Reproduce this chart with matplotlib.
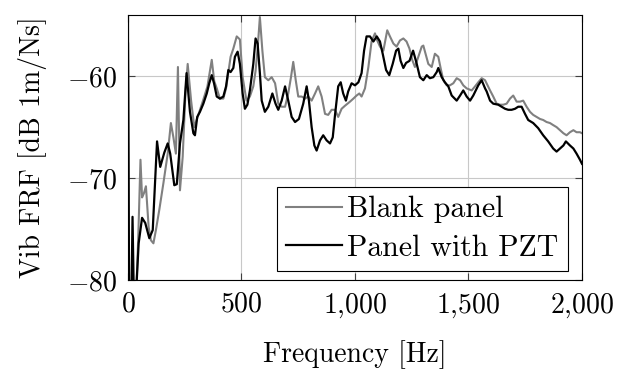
import matplotlib
matplotlib.use("Agg")
import matplotlib.pyplot as plt
import matplotlib.ticker as ticker

plt.rcParams.update({'font.size': 20})
plt.rcParams['font.family'] = 'cmr10'
plt.rcParams['mathtext.fontset'] = 'cm'
plt.rcParams['axes.formatter.use_mathtext'] = True

# Blank panel (grey)
freq_blank = [0, 4, 35, 45, 55, 62, 70, 79, 91, 101, 112, 123, 138, 156, 175, 189, 200, 211,
              220, 229, 241, 253, 263, 278, 292, 310, 332, 350, 369, 380, 391, 405, 420, 432,
              452, 464, 479, 493, 505, 522, 537, 552, 562, 572, 581, 592, 603, 618, 633, 648,
              662, 677, 692, 706, 718, 728, 739, 750, 765, 780, 794, 809, 824, 838, 853, 868,
              882, 897, 912, 926, 941, 956, 978, 993, 1007, 1019, 1029, 1044, 1059, 1073, 1088,
              1098, 1110, 1125, 1142, 1154, 1169, 1183, 1198, 1213, 1227, 1240, 1252, 1264,
              1279, 1294, 1301, 1311, 1323, 1338, 1352, 1367, 1379, 1389, 1404, 1418, 1433,
              1448, 1463, 1477, 1492, 1514, 1529, 1543, 1558, 1573, 1595, 1609, 1624, 1639,
              1653, 1668, 1683, 1697, 1712, 1727, 1741, 1756, 1771, 1785, 1800, 1815, 1829,
              1844, 1859, 1873, 1888, 1903, 1918, 1932, 1947, 1962, 1976, 1991, 2000]
vib_blank = [-52, -82, -82, -76, -68.2, -71.9, -71.5, -70.8, -74.8, -76.1, -76.4, -75.1, -73.1,
             -70.5, -67.6, -64.6, -66.0, -67.6, -59.1, -71.2, -67.9, -61.7, -58.8, -62.4, -65.0,
             -63.8, -62.3, -61.0, -58.4, -60.5, -61.2, -62.2, -62.2, -61.2, -58.1, -57.3, -56.1,
             -56.4, -60.1, -62.4, -62.0, -61.0, -59.5, -57.0, -54.2, -57.5, -60.1, -60.4, -60.1,
             -60.7, -62.7, -63.0, -63.0, -61.7, -60.1, -58.6, -60.4, -62.0, -62.0, -62.2, -62.0,
             -62.4, -61.7, -61.0, -62.0, -63.7, -63.8, -63.3, -63.3, -64.0, -63.2, -62.9, -62.5,
             -62.2, -61.9, -61.7, -62.0, -61.2, -59.1, -56.6, -55.8, -56.5, -57.1, -57.5, -55.5,
             -56.1, -56.8, -57.1, -56.5, -56.3, -56.6, -57.3, -58.4, -59.1, -58.1, -57.1, -57.0,
             -57.8, -58.8, -59.1, -57.8, -58.1, -59.4, -60.4, -60.9, -60.9, -60.7, -60.2, -60.4,
             -60.9, -61.2, -61.4, -61.0, -60.6, -60.2, -60.4, -61.4, -62.0, -62.7, -62.8, -62.8,
             -62.7, -62.2, -61.9, -62.5, -62.5, -62.4, -63.0, -63.5, -63.8, -64.0, -64.2, -64.3,
             -64.5, -64.6, -64.8, -65.0, -65.3, -65.6, -65.8, -65.5, -65.3, -65.5, -65.5, -65.6]

# Panel with PZT (black)
freq_pzt = [0, 5, 15, 20, 26, 34, 47, 62, 76, 94, 109, 128, 142, 160, 175, 186, 204, 215, 229,
            244, 258, 273, 288, 295, 305, 317, 332, 347, 358, 369, 379, 391, 405, 420, 432, 442,
            452, 464, 471, 483, 493, 505, 515, 526, 537, 552, 562, 571, 581, 589, 603, 618, 636,
            650, 662, 677, 692, 706, 721, 736, 753, 772, 787, 797, 809, 821, 831, 846, 860, 875,
            890, 902, 912, 926, 937, 948, 960, 970, 985, 1000, 1015, 1029, 1040, 1051, 1066,
            1081, 1096, 1110, 1122, 1137, 1151, 1166, 1181, 1191, 1201, 1213, 1225, 1240, 1256,
            1272, 1286, 1301, 1316, 1330, 1345, 1360, 1367, 1382, 1396, 1411, 1426, 1448, 1463,
            1477, 1492, 1507, 1521, 1543, 1558, 1573, 1580, 1595, 1609, 1631, 1646, 1661, 1675,
            1690, 1705, 1719, 1734, 1749, 1763, 1785, 1807, 1829, 1851, 1873, 1888, 1903, 1918,
            1929, 1947, 1962, 1976, 1991, 2000]
vib_pzt = [-56.8, -82, -82, -73.8, -82, -82, -76.4, -73.9, -74.4, -75.9, -75.1, -66.4, -68.9,
           -67.5, -66.6, -67.6, -70.7, -70.6, -66.6, -64.3, -59.7, -63.5, -65.6, -65.8, -64.0,
           -63.5, -62.7, -61.7, -60.7, -59.9, -60.7, -62.0, -62.2, -62.0, -61.0, -59.4, -59.6,
           -59.2, -58.1, -57.6, -58.8, -61.7, -63.2, -62.8, -61.4, -58.8, -56.3, -56.8, -59.7,
           -62.4, -63.5, -63.0, -61.7, -62.7, -63.3, -62.4, -61.0, -62.4, -64.0, -64.5, -64.2,
           -62.7, -61.0, -62.4, -65.0, -66.8, -67.3, -66.3, -65.8, -66.3, -66.6, -66.0, -63.8,
           -61.0, -60.6, -61.7, -62.4, -61.5, -60.7, -60.9, -60.6, -59.7, -57.5, -56.1, -56.1,
           -56.6, -56.1, -56.6, -57.8, -59.4, -59.9, -58.8, -57.5, -57.3, -58.5, -59.2, -58.7,
           -58.5, -57.5, -58.8, -60.1, -60.4, -59.9, -60.2, -60.1, -59.6, -59.2, -60.1, -60.6,
           -61.0, -61.9, -62.4, -61.9, -61.4, -62.0, -62.4, -61.9, -60.9, -60.4, -61.2, -61.5,
           -62.4, -62.7, -62.8, -63.0, -63.2, -63.3, -63.3, -63.2, -63.0, -63.0, -63.7, -64.3,
           -64.6, -65.1, -65.8, -66.4, -67.1, -67.4, -67.1, -66.8, -66.4, -66.8, -67.1, -67.6,
           -68.2, -68.6]

xticks = [0, 500, 1000, 1500, 2000]
yticks = [-80, -70, -60]


def fmt_x(v, pos):
    s = '{:,.0f}'.format(v).replace(',', '{,}')
    return '$' + s + '$'


def fmt_y(v, pos):
    return '$%d$' % v


fig = plt.figure(figsize=(6.21, 3.76), dpi=100)
ax = fig.add_axes([0.2061, 0.2553, 0.7311, 0.7048])

ax.plot(freq_blank, vib_blank, color='#808080', lw=1.5, label='Blank panel')
ax.plot(freq_pzt, vib_pzt, color='black', lw=1.6, label='Panel with PZT')

ax.set_xlim(0, 2000)
ax.set_ylim(-80, -54)
ax.set_xticks(xticks)
ax.set_yticks(yticks)
ax.xaxis.set_major_formatter(ticker.FuncFormatter(fmt_x))
ax.yaxis.set_major_formatter(ticker.FuncFormatter(fmt_y))
ax.grid(True, color='#c8c8c8', lw=0.8)
ax.set_axisbelow(True)
ax.tick_params(direction='in', length=5, width=0.8, color='#404040',
               top=True, right=True, pad=8)
for sp in ax.spines.values():
    sp.set_linewidth(0.8)

ax.set_xlabel('Frequency [Hz]', labelpad=15)
ax.set_ylabel('Vib FRF [dB 1m/Ns]', labelpad=14)

leg = ax.legend(loc='lower right', bbox_to_anchor=(0.9685, 0.035), fancybox=False,
                edgecolor='black', framealpha=1, handlelength=1.9, handletextpad=0.17,
                labelspacing=0.37, borderpad=0.3, borderaxespad=0, fontsize=21.5)
leg.get_frame().set_linewidth(0.8)

fig.savefig('out.png', dpi=100)
